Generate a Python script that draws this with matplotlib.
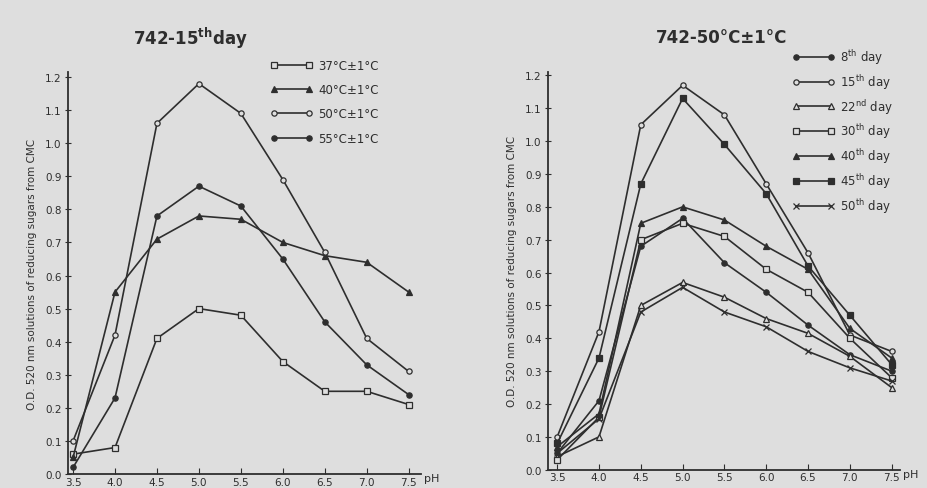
import numpy as np
import matplotlib
matplotlib.use('Agg')
import matplotlib.pyplot as plt

ph = [3.5, 4.0, 4.5, 5.0, 5.5, 6.0, 6.5, 7.0, 7.5]

# left panel: 742 - 15th day, different temperatures
t37 = [0.06, 0.08, 0.41, 0.50, 0.48, 0.34, 0.25, 0.25, 0.21]
t40 = [0.05, 0.55, 0.71, 0.78, 0.77, 0.70, 0.66, 0.64, 0.55]
t50 = [0.10, 0.42, 1.06, 1.18, 1.09, 0.89, 0.67, 0.41, 0.31]
t55 = [0.02, 0.23, 0.78, 0.87, 0.81, 0.65, 0.46, 0.33, 0.24]
temp_labels = ['37°C±1°C', '40°C±1°C', '50°C±1°C', '55°C±1°C']

# right panel: 742 - 50°C, different days
d8 = [0.05, 0.21, 0.68, 0.765, 0.63, 0.54, 0.44, 0.35, 0.30]
d15 = [0.10, 0.42, 1.05, 1.17, 1.08, 0.87, 0.66, 0.41, 0.36]
d22 = [0.04, 0.10, 0.50, 0.57, 0.525, 0.46, 0.415, 0.345, 0.25]
d30 = [0.03, 0.16, 0.70, 0.75, 0.71, 0.61, 0.54, 0.40, 0.28]
d40 = [0.07, 0.17, 0.75, 0.80, 0.76, 0.68, 0.61, 0.43, 0.34]
d45 = [0.08, 0.34, 0.87, 1.13, 0.99, 0.84, 0.62, 0.47, 0.32]
d50 = [0.05, 0.155, 0.48, 0.555, 0.48, 0.435, 0.36, 0.31, 0.27]
day_labels = [r'8$^{\mathrm{th}}$ day', r'15$^{\mathrm{th}}$ day', r'22$^{\mathrm{nd}}$ day',
              r'30$^{\mathrm{th}}$ day', r'40$^{\mathrm{th}}$ day', r'45$^{\mathrm{th}}$ day',
              r'50$^{\mathrm{th}}$ day']

bg = '#dedede'
ink = '#2e2e2e'
plt.rcParams['font.family'] = 'DejaVu Sans'
plt.rcParams['mathtext.fontset'] = 'dejavusans'
plt.rcParams['text.color'] = ink

fig = plt.figure(figsize=(9.28, 4.89), dpi=100, facecolor=bg)
ax1 = fig.add_axes([0.0733, 0.0286, 0.380, 0.822])
ax2 = fig.add_axes([0.5905, 0.0374, 0.379, 0.813])

ylab = 'O.D. 520 nm solutions of reducing sugars from CMC'


def style(ax, xlim, ylim):
    ax.set_facecolor(bg)
    ax.set_xlim(*xlim)
    ax.set_ylim(*ylim)
    for s in ['top', 'right']:
        ax.spines[s].set_visible(False)
    for s in ['left', 'bottom']:
        ax.spines[s].set_color(ink)
        ax.spines[s].set_linewidth(1.3)
    ax.set_xticks(ph)
    ax.set_xticklabels([f'{v:.1f}' for v in ph])
    yt = np.round(np.arange(0, 1.21, 0.1), 1)
    ax.set_yticks(yt)
    ax.set_yticklabels([f'{v:.1f}' for v in yt])
    ax.tick_params(axis='x', direction='in', length=4, color=ink, labelsize=7.5,
                   labelcolor=ink, pad=2)
    ax.tick_params(axis='y', direction='inout', length=5, color=ink, labelsize=7.5,
                   labelcolor=ink, pad=2)
    ax.set_ylabel(ylab, fontsize=7.5, color=ink, labelpad=6)
    ax.text(1.01, -0.01, 'pH', transform=ax.transAxes, fontsize=8, color=ink,
            ha='left', va='center')


style(ax1, (3.44, 7.643), (0, 1.215))
style(ax2, (3.39, 7.596), (0, 1.21))

kw = dict(color=ink, lw=1.2, markersize=3.8, markeredgewidth=0.9)
ax1.plot(ph, t37, marker='s', mfc=bg, mec=ink, label=temp_labels[0], **kw)
ax1.plot(ph, t40, marker='^', mfc=ink, mec=ink, label=temp_labels[1], **kw)
ax1.plot(ph, t50, marker='o', mfc=bg, mec=ink, label=temp_labels[2], **kw)
ax1.plot(ph, t55, marker='o', mfc=ink, mec=ink, label=temp_labels[3], **kw)

ax2.plot(ph, d8, marker='o', mfc=ink, mec=ink, label=day_labels[0], **kw)
ax2.plot(ph, d15, marker='o', mfc=bg, mec=ink, label=day_labels[1], **kw)
ax2.plot(ph, d22, marker='^', mfc=bg, mec=ink, label=day_labels[2], **kw)
ax2.plot(ph, d30, marker='s', mfc=bg, mec=ink, label=day_labels[3], **kw)
ax2.plot(ph, d40, marker='^', mfc=ink, mec=ink, label=day_labels[4], **kw)
ax2.plot(ph, d45, marker='s', mfc=ink, mec=ink, label=day_labels[5], **kw)
ax2.plot(ph, d50, marker='x', mfc=ink, mec=ink, label=day_labels[6], **kw)

leg_kw = dict(loc='upper left', bbox_transform=fig.transFigure, frameon=False,
              numpoints=2, handlelength=3.6, handletextpad=0.5, borderpad=0,
              borderaxespad=0, fontsize=8.5)
ax1.legend(bbox_to_anchor=(270 / 928, 1 - 60 / 489), labelspacing=0.95, **leg_kw)
ax2.legend(bbox_to_anchor=(792 / 928, 1 - 48 / 489), labelspacing=0.5, **leg_kw)

fig.text(190 / 928, 1 - 38 / 489, r'742-15$^{\mathbf{th}}$day', fontsize=12, ha='center',
         va='center', fontweight='bold', color=ink)
fig.text(722 / 928, 1 - 38 / 489, '742-50°C±1°C', fontsize=12, ha='center',
         va='center', fontweight='bold', color=ink)

fig.savefig('out.png', dpi=100, facecolor=bg)
